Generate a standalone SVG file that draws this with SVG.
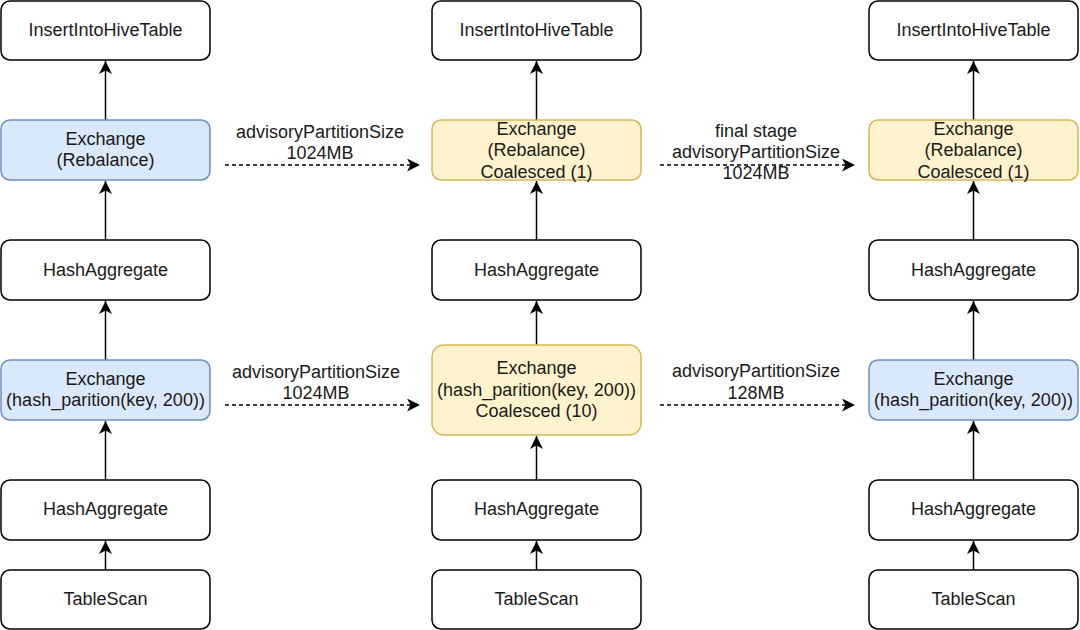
<svg xmlns="http://www.w3.org/2000/svg" width="1080" height="630" viewBox="0 0 1080 630">
<style>
.box{fill:#ffffff;stroke:#000000;stroke-width:1.5}
.blue{fill:#dae8fc;stroke:#6c8ebf;stroke-width:1.5}
.yel{fill:#fff2cc;stroke:#d6b656;stroke-width:1.5}
text{font-family:"Liberation Sans",Arial,sans-serif;font-size:18px;fill:#1a1a1a;text-anchor:middle}
.e{stroke:#000000;stroke-width:1.5;fill:none}
.d{stroke:#000000;stroke-width:1.3;fill:none;stroke-dasharray:4 3}
</style>
<defs>
<marker id="ah" markerUnits="userSpaceOnUse" markerWidth="16" markerHeight="16" refX="13" refY="6.5" orient="auto">
<path d="M0,0 L13,6.5 L0,13 L3.5,6.5 z" fill="#000000"/>
</marker>
</defs>
<rect width="1080" height="630" fill="#ffffff"/>
<g id="connectors">
<line class="e" x1="105.5" y1="120" x2="105.5" y2="61" marker-end="url(#ah)"/>
<line class="e" x1="105.5" y1="240" x2="105.5" y2="181" marker-end="url(#ah)"/>
<line class="e" x1="105.5" y1="360" x2="105.5" y2="301" marker-end="url(#ah)"/>
<line class="e" x1="105.5" y1="480" x2="105.5" y2="421" marker-end="url(#ah)"/>
<line class="e" x1="105.5" y1="570" x2="105.5" y2="541" marker-end="url(#ah)"/>
<line class="e" x1="536.5" y1="120" x2="536.5" y2="61" marker-end="url(#ah)"/>
<line class="e" x1="536.5" y1="240" x2="536.5" y2="181" marker-end="url(#ah)"/>
<line class="e" x1="536.5" y1="345" x2="536.5" y2="301" marker-end="url(#ah)"/>
<line class="e" x1="536.5" y1="480" x2="536.5" y2="436" marker-end="url(#ah)"/>
<line class="e" x1="536.5" y1="570" x2="536.5" y2="541" marker-end="url(#ah)"/>
<line class="e" x1="973.5" y1="120" x2="973.5" y2="61" marker-end="url(#ah)"/>
<line class="e" x1="973.5" y1="240" x2="973.5" y2="181" marker-end="url(#ah)"/>
<line class="e" x1="973.5" y1="360" x2="973.5" y2="301" marker-end="url(#ah)"/>
<line class="e" x1="973.5" y1="480" x2="973.5" y2="421" marker-end="url(#ah)"/>
<line class="e" x1="973.5" y1="570" x2="973.5" y2="541" marker-end="url(#ah)"/>
<line class="d" x1="225" y1="165" x2="420" y2="165" marker-end="url(#ah)"/>
<line class="d" x1="225" y1="405" x2="420" y2="405" marker-end="url(#ah)"/>
<line class="d" x1="660" y1="165" x2="855" y2="165" marker-end="url(#ah)"/>
<line class="d" x1="660" y1="405" x2="855" y2="405" marker-end="url(#ah)"/>
<text x="320" y="138">advisoryPartitionSize</text>
<text x="320" y="159">1024MB</text>
<text x="316" y="378">advisoryPartitionSize</text>
<text x="316" y="399">1024MB</text>
<text x="756" y="137">final stage</text>
<text x="756" y="158">advisoryPartitionSize</text>
<text x="756" y="179">1024MB</text>
<text x="756" y="377">advisoryPartitionSize</text>
<text x="756" y="399">128MB</text>
</g>
<g id="l-insert"><rect class="box" x="1" y="1" width="209" height="59" rx="9"/><text x="105.5" y="36">InsertIntoHiveTable</text></g>
<g id="l-exch1"><rect class="blue" x="1" y="120" width="209" height="60" rx="9"/><text x="105.5" y="145">Exchange</text><text x="105.5" y="166">(Rebalance)</text></g>
<g id="l-hash1"><rect class="box" x="1" y="240" width="209" height="60" rx="9"/><text x="105.5" y="276">HashAggregate</text></g>
<g id="l-exch2"><rect class="blue" x="1" y="360" width="209" height="60" rx="9"/><text x="105.5" y="385">Exchange</text><text x="105.5" y="406">(hash_parition(key, 200))</text></g>
<g id="l-hash2"><rect class="box" x="1" y="480" width="209" height="60" rx="9"/><text x="105.5" y="515">HashAggregate</text></g>
<g id="l-scan"><rect class="box" x="1" y="570" width="209" height="59" rx="9"/><text x="105.5" y="605">TableScan</text></g>
<g id="m-insert"><rect class="box" x="432" y="1" width="209" height="59" rx="9"/><text x="536.5" y="36">InsertIntoHiveTable</text></g>
<g id="m-exch1"><rect class="yel" x="432" y="120" width="209" height="60" rx="9"/><text x="536.5" y="135">Exchange</text><text x="536.5" y="156">(Rebalance)</text><text x="536.5" y="178">Coalesced (1)</text></g>
<g id="m-hash1"><rect class="box" x="432" y="240" width="209" height="60" rx="9"/><text x="536.5" y="276">HashAggregate</text></g>
<g id="m-exch2"><rect class="yel" x="432" y="345" width="209" height="90" rx="12"/><text x="536.5" y="374">Exchange</text><text x="536.5" y="396">(hash_parition(key, 200))</text><text x="536.5" y="417">Coalesced (10)</text></g>
<g id="m-hash2"><rect class="box" x="432" y="480" width="209" height="60" rx="9"/><text x="536.5" y="515">HashAggregate</text></g>
<g id="m-scan"><rect class="box" x="432" y="570" width="209" height="59" rx="9"/><text x="536.5" y="605">TableScan</text></g>
<g id="r-insert"><rect class="box" x="869" y="1" width="209" height="59" rx="9"/><text x="973.5" y="36">InsertIntoHiveTable</text></g>
<g id="r-exch1"><rect class="yel" x="869" y="120" width="209" height="60" rx="9"/><text x="973.5" y="135">Exchange</text><text x="973.5" y="156">(Rebalance)</text><text x="973.5" y="178">Coalesced (1)</text></g>
<g id="r-hash1"><rect class="box" x="869" y="240" width="209" height="60" rx="9"/><text x="973.5" y="276">HashAggregate</text></g>
<g id="r-exch2"><rect class="blue" x="869" y="360" width="209" height="60" rx="9"/><text x="973.5" y="385">Exchange</text><text x="973.5" y="406">(hash_parition(key, 200))</text></g>
<g id="r-hash2"><rect class="box" x="869" y="480" width="209" height="60" rx="9"/><text x="973.5" y="515">HashAggregate</text></g>
<g id="r-scan"><rect class="box" x="869" y="570" width="209" height="59" rx="9"/><text x="973.5" y="605">TableScan</text></g>
</svg>
